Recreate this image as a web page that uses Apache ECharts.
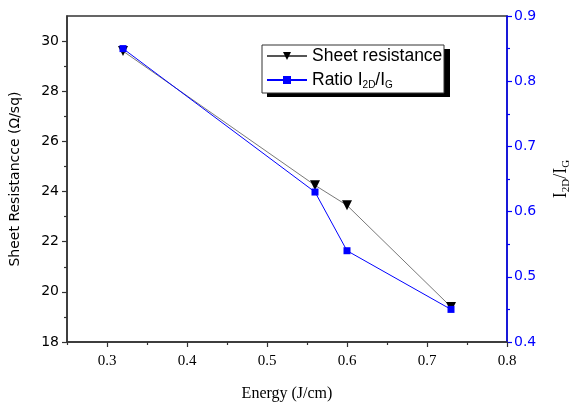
<!DOCTYPE html>
<html><head><meta charset="utf-8">
<script src="https://cdn.jsdelivr.net/npm/echarts@6/dist/echarts.min.js"></script>
<style>html,body{margin:0;padding:0;background:#fff}#c{width:571px;height:404px}</style>
</head><body><div id="c"></div>
<script>
const energy = [0.32, 0.56, 0.6, 0.73];
const sheetResistance = [29.6, 24.25, 23.45, 19.4];
const ratio2DG = [0.85, 0.63, 0.54, 0.45];
const xMajorTicks = [0.3, 0.4, 0.5, 0.6, 0.7, 0.8];
const xMinorTicks = [0.25, 0.35, 0.45, 0.55, 0.65, 0.75];
const leftMajorTicks = [18, 20, 22, 24, 26, 28, 30];
const leftMinorTicks = [19, 21, 23, 25, 27, 29];

const chart = echarts.init(document.getElementById('c'));
const axisGray = '#333';
const blue = '#0000ff';
const sansTick = 'DejaVu Sans';
const serif = 'Liberation Serif';

chart.setOption({
  animation: false,
  grid: { left: 67, right: 64, top: 16, bottom: 62, show: true, borderColor: axisGray, borderWidth: 1.5,
    containLabel: false, outerBoundsMode: 'none' },
  graphic: [
    { type: 'rect', z: 10, shape: { x: 267, y: 49, width: 183, height: 48 }, style: { fill: '#000' } },
    { type: 'rect', z: 11, shape: { x: 262, y: 45, width: 182, height: 48 }, style: { fill: '#fff', stroke: '#333', lineWidth: 1 } }
  ],
  legend: {
    left: 264, top: 45, orient: 'vertical', z: 20,
    padding: [2, 2, 2, 2], itemGap: 6, itemWidth: 40, itemHeight: 10,
    textStyle: { fontFamily: 'Liberation Sans', fontSize: 17.5, color: '#000',
      rich: { s: { fontSize: 10, fontFamily: 'Liberation Sans', verticalAlign: 'bottom', padding: [10, 0, 0, 0] } } },
    formatter: function (n) { return n === 'Ratio' ? 'Ratio I{s|2D}/I{s|G}' : n; },
    data: ['Sheet resistance', 'Ratio']
  },
  xAxis: [{
    type: 'value', min: 0.25, max: 0.8, position: 'bottom',
    name: 'Energy (J/cm)', nameLocation: 'middle', nameGap: 44,
    nameTextStyle: { fontFamily: serif, fontSize: 16, color: '#000' },
    axisLine: { show: true, lineStyle: { color: axisGray, width: 1.5 } },
    axisTick: { show: true, length: 5, customValues: xMajorTicks, lineStyle: { color: axisGray, width: 1.2 } },
    axisLabel: { customValues: xMajorTicks, fontFamily: serif, fontSize: 15, color: '#000', margin: 12,
      formatter: v => String(Math.round(v * 10) / 10) },
    splitLine: { show: false }
  }, {
    type: 'value', min: 0.25, max: 0.8, position: 'bottom',
    axisLine: { show: false },
    axisTick: { show: true, length: 3, customValues: xMinorTicks, lineStyle: { color: axisGray, width: 1.2 } },
    axisLabel: { show: false }, splitLine: { show: false }
  }],
  yAxis: [{
    type: 'value', min: 18, max: 31, position: 'left',
    name: 'Sheet Resistancce (Ω/sq)', nameLocation: 'middle', nameGap: 45, nameRotate: 90,
    nameTextStyle: { fontFamily: sansTick, fontSize: 14, color: '#000' },
    axisLine: { show: true, lineStyle: { color: axisGray, width: 1.5 } },
    axisTick: { show: true, length: 5, customValues: leftMajorTicks, lineStyle: { color: axisGray, width: 1.2 } },
    axisLabel: { customValues: leftMajorTicks, fontFamily: sansTick, fontSize: 14, color: '#000', margin: 8 },
    splitLine: { show: false }
  }, {
    type: 'value', min: 0.4, max: 0.9, interval: 0.1, position: 'right',
    name: 'I{s|2D}/I{s|G}', nameLocation: 'middle', nameGap: 44, nameRotate: 90,
    nameTextStyle: { fontFamily: serif, fontSize: 18, color: '#000',
      rich: { s: { fontFamily: serif, fontSize: 11, verticalAlign: 'bottom', padding: [10, 0, 0, 0] } } },
    axisLine: { show: true, lineStyle: { color: blue, width: 1.5 } },
    axisTick: { show: true, length: 5, lineStyle: { color: blue, width: 1.2 } },
    minorTick: { show: true, splitNumber: 2, length: 3, lineStyle: { color: blue, width: 1.2 } },
    axisLabel: { fontFamily: sansTick, fontSize: 14, color: blue, margin: 7,
      formatter: v => v.toFixed(1) },
    splitLine: { show: false }
  }, {
    type: 'value', min: 18, max: 31, position: 'left',
    axisLine: { show: false },
    axisTick: { show: true, length: 3, customValues: leftMinorTicks, lineStyle: { color: axisGray, width: 1.2 } },
    axisLabel: { show: false }, splitLine: { show: false }
  }],
  series: [{
    name: 'Sheet resistance', type: 'line', xAxisIndex: 0, yAxisIndex: 0,
    data: energy.map((x, i) => [x, sheetResistance[i]]),
    symbol: 'triangle', symbolRotate: 180, symbolSize: 10,
    itemStyle: { color: '#000' }, lineStyle: { color: '#555', width: 0.8 }, z: 2
  }, {
    name: 'Ratio', type: 'line', xAxisIndex: 0, yAxisIndex: 1,
    data: energy.map((x, i) => [x, ratio2DG[i]]),
    symbol: 'rect', symbolSize: 7,
    itemStyle: { color: blue }, lineStyle: { color: blue, width: 1 }, z: 3
  }]
});
</script></body></html>
